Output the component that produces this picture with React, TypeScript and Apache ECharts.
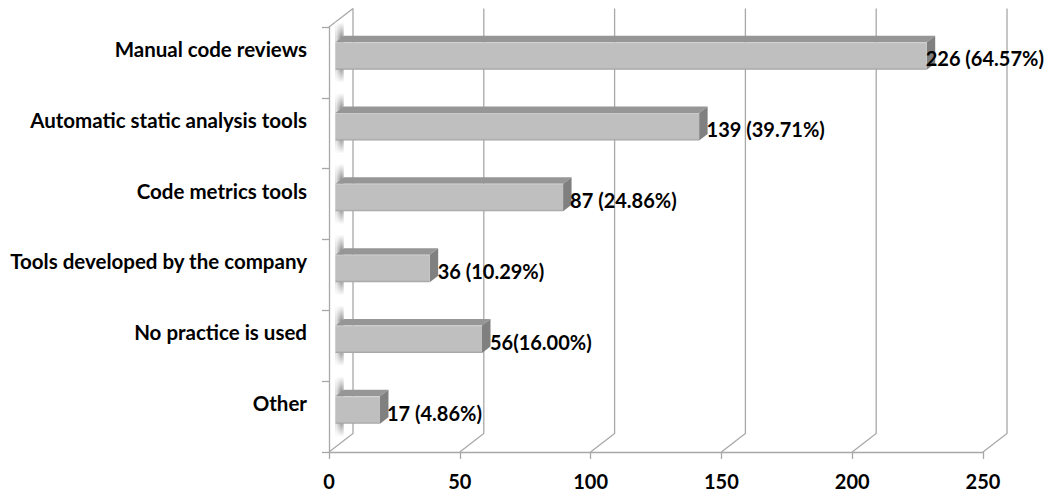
import React, { useEffect, useRef } from "react";
import * as echarts from "echarts";

const categories = [
  "Manual code reviews",
  "Automatic static analysis tools",
  "Code metrics tools",
  "Tools developed by the company",
  "No practice is used",
  "Other",
];
const counts = [226, 139, 87, 36, 56, 17];
const barLabels = [
  "226 (64.57%)",
  "139 (39.71%)",
  "87 (24.86%)",
  "36 (10.29%)",
  "56(16.00%)",
  "17 (4.86%)",
];
const axisTicks = [0, 50, 100, 150, 200, 250];
const labelGaps = [-1, 7.5, 7, 8, 8, 7];

const FONT = "Lato, 'Open Sans', sans-serif";
const LINE = "#a8a8a8";
const TEXT = "#000000";
const DEPTH_X = 24;
const DEPTH_Y = -18.5;
const BAR_H = 27.5;
const BAR_SHIFT = -6.5;
const BAR_BASE = 6.5;
const BAR_DX = 8.5;
const BAR_DY = -6.5;

export default function App() {
  const ref = useRef<HTMLDivElement>(null);
  useEffect(() => {
    const chart = echarts.init(ref.current!, undefined, { renderer: "svg" });

    const renderWall = (params: any, api: any) => {
      const cs = params.coordSys;
      const bottom = cs.y + cs.height;
      const x = api.coord([api.value(0), 0])[0];
      const children: any[] = [
        {
          type: "polyline",
          shape: {
            points: [
              [x, bottom],
              [x + DEPTH_X, bottom + DEPTH_Y],
              [x + DEPTH_X, cs.y + DEPTH_Y],
            ],
          },
          style: { stroke: LINE, lineWidth: 1.3, fill: "none" },
        },
      ];
      if (params.dataIndex === 0) {
        children.push({
          type: "line",
          shape: { x1: x, y1: cs.y, x2: x + DEPTH_X, y2: cs.y + DEPTH_Y },
          style: { stroke: LINE, lineWidth: 1.3 },
        });
      }
      return { type: "group", children };
    };

    const renderBar = (params: any, api: any) => {
      const origin = api.coord([0, api.value(1)]);
      const tip = api.coord([api.value(0), api.value(1)]);
      const left = origin[0] + BAR_BASE;
      const right = tip[0] + BAR_BASE;
      const top = origin[1] + BAR_SHIFT - BAR_H / 2;
      const bot = top + BAR_H;
      const idx = params.dataIndex;
      const shadowTop = top - 20;
      const shadowH = BAR_H + 33;
      return {
        type: "group",
        children: [
          {
            type: "rect",
            shape: { x: left, y: shadowTop, width: BAR_DX, height: shadowH },
            style: {
              fill: new echarts.graphic.LinearGradient(0, 0, 0, 1, [
                { offset: 0, color: "rgba(140,140,140,0)" },
                { offset: 0.25, color: "rgba(140,140,140,1)" },
                { offset: 0.75, color: "rgba(140,140,140,1)" },
                { offset: 1, color: "rgba(140,140,140,0)" },
              ]),
            },
          },
          {
            type: "rect",
            shape: { x: left, y: shadowTop, width: BAR_DX, height: shadowH },
            style: {
              fill: new echarts.graphic.LinearGradient(0, 0, 1, 0, [
                { offset: 0, color: "rgba(255,255,255,0.85)" },
                { offset: 0.7, color: "rgba(255,255,255,0.05)" },
                { offset: 1, color: "rgba(255,255,255,0.5)" },
              ]),
            },
          },
          {
            type: "polygon",
            shape: {
              points: [
                [left, top],
                [left + BAR_DX, top + BAR_DY],
                [right + BAR_DX, top + BAR_DY],
                [right, top],
              ],
            },
            style: { fill: "#969696" },
          },
          {
            type: "polygon",
            shape: {
              points: [
                [right, top],
                [right + BAR_DX, top + BAR_DY],
                [right + BAR_DX, bot + BAR_DY],
                [right, bot],
              ],
            },
            style: { fill: "#808080" },
          },
          {
            type: "rect",
            shape: { x: left, y: top, width: right - left, height: BAR_H },
            style: {
              fill: new echarts.graphic.LinearGradient(0, 0, 0, 1, [
                { offset: 0, color: "#cfcfcf" },
                { offset: 0.06, color: "#bfbfbf" },
                { offset: 0.92, color: "#bfbfbf" },
                { offset: 1, color: "#a2a2a2" },
              ]),
            },
          },
          {
            type: "text",
            z2: 10,
            style: {
              x: right + labelGaps[idx],
              y: origin[1] + BAR_SHIFT + 2.5,
              text: barLabels[idx],
              fill: TEXT,
              font: `bold 20px ${FONT}`,
              textAlign: "left",
              textVerticalAlign: "middle",
            },
          },
        ],
      };
    };

    chart.setOption({
      animation: false,
      grid: { left: 329, top: 27, width: 654, height: 425, containLabel: false },
      xAxis: {
        type: "value",
        min: 0,
        max: 250,
        interval: 50,
        splitLine: { show: false },
        axisLine: { show: true, lineStyle: { color: LINE, width: 1.3 } },
        axisTick: { show: true, length: 7, lineStyle: { color: LINE, width: 1.3 } },
        axisLabel: {
          margin: 19,
          fontFamily: FONT,
          fontWeight: "bold",
          fontSize: 20,
          color: TEXT,
        },
      },
      yAxis: {
        type: "category",
        inverse: true,
        data: categories,
        axisLine: { show: true, lineStyle: { color: LINE, width: 1.3 } },
        axisTick: { show: true, length: 7, alignWithLabel: false, lineStyle: { color: LINE, width: 1.3 } },
        axisLabel: {
          margin: 22,
          verticalAlign: "bottom",
          lineHeight: 27,
          fontFamily: FONT,
          fontWeight: "bold",
          fontSize: 20.5,
          color: TEXT,
        },
      },
      series: [
        {
          type: "custom",
          name: "wall",
          silent: true,
          clip: false,
          z: 1,
          encode: { x: 0, y: 1 },
          data: axisTicks.map((t) => [t, 0]),
          renderItem: renderWall,
        },
        {
          type: "custom",
          name: "bars",
          silent: true,
          clip: false,
          z: 5,
          encode: { x: 0, y: 1 },
          data: counts.map((c, i) => [c, i]),
          renderItem: renderBar,
        },
      ],
    });
    return () => chart.dispose();
  }, []);
  return (
    <div
      ref={ref}
      style={{ position: "absolute", left: 0, top: 0, width: 1045, height: 496, background: "#fff" }}
    />
  );
}
